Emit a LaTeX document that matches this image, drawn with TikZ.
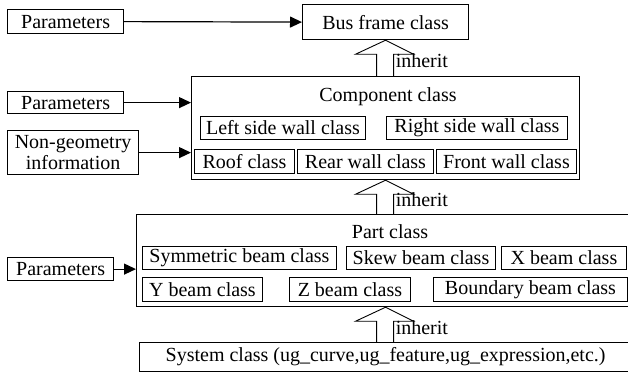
\documentclass[tikz,border=0pt]{standalone}
\usepackage{fontspec}
\setmainfont{Liberation Serif}
\newfontfamily\timesfont{Liberation Serif}
\usetikzlibrary{arrows.meta,calc}
\tikzset{
  mainbox/.style={draw, line width=1.2pt, inner sep=0pt, anchor=north west},
  subbox/.style={draw, line width=0.9pt, inner sep=0pt, anchor=north west},
  ttl/.style={inner sep=0pt},
  lbl/.style={inner sep=0pt, anchor=west},
  feed/.style={line width=1.2pt, -{Triangle[length=12pt,width=11pt]}},
  inh/.style={line width=0.9pt}
}
\newcommand\inharrow[3]{%
  \coordinate (#3a) at (#1.south);
  \coordinate (#3b) at ($(#1.south |- #2.north)$);
  \draw[inh] ($(#3b)+(-9pt,0)$) -- ($(#3a)+(-9pt,-14pt)$) -- ($(#3a)+(-30pt,-14pt)$)
     -- (#3a) -- ($(#3a)+(28pt,-14pt)$) -- ($(#3a)+(8pt,-14pt)$) -- ($(#3b)+(8pt,0)$);
  \node[lbl] (#3l) at ($(#3b)!0.5!(#3a)+(10pt,-3pt)$) {inherit};
}
\begin{document}
\begin{tikzpicture}[x=1pt,y=-1pt,font=\timesfont\fontsize{20}{21}\selectfont]
\useasboundingbox (0,0) rectangle (628,372);
% top level
\node[mainbox, minimum width=116pt, minimum height=24pt] (p1) at (7,9) {Parameters};
\node[mainbox, minimum width=166pt, minimum height=35pt] (bus) at (302,4) {Bus frame class};
% component
\node[mainbox, minimum width=116pt, minimum height=22pt] (p2) at (7,91) {Parameters};
\node[mainbox, minimum width=131pt, minimum height=44pt, align=center] (ng) at (7,130) {Non-geometry\\information};
\node[mainbox, minimum width=388pt, minimum height=103pt] (comp) at (191,76) {};
\node[ttl] (compt) at (388,97) {Component class};
\node[subbox, minimum width=165pt, minimum height=23pt] (lsw) at (200,116) {Left side wall class};
\node[subbox, minimum width=181pt, minimum height=23pt] (rsw) at (386,116) {Right side wall class};
\node[subbox, minimum width=100pt, minimum height=24pt] (roof) at (194,149) {Roof class};
\node[subbox, minimum width=136pt, minimum height=24pt] (rear) at (297,149) {Rear wall class};
\node[subbox, minimum width=140pt, minimum height=24pt] (front) at (436,149) {Front wall class};
% part
\node[mainbox, minimum width=106pt, minimum height=23pt] (p3) at (7,257) {Parameters};
\node[mainbox, minimum width=498pt, minimum height=92pt] (part) at (136,214) {};
\node[ttl] (partt) at (390,232) {Part class};
\node[subbox, minimum width=194pt, minimum height=23pt] (sym) at (142,246) {Symmetric beam class};
\node[subbox, minimum width=149pt, minimum height=23pt] (skew) at (346,246) {Skew beam class};
\node[subbox, minimum width=125pt, minimum height=23pt] (xb) at (501,246) {X beam class};
\node[subbox, minimum width=120pt, minimum height=24pt] (yb) at (142,277) {Y beam class};
\node[subbox, minimum width=121pt, minimum height=24pt] (zb) at (289,277) {Z beam class};
\node[subbox, minimum width=194pt, minimum height=24pt] (bd) at (433,277) {Boundary beam class};
% system
\node[mainbox, minimum width=492pt, minimum height=29pt] (sys) at (139,342) {System class (ug\_curve,ug\_feature,ug\_expression,etc.)};
% feeds
\draw[feed] (p1.east) -- (bus.west);
\draw[feed] (p2.east) -- (p2.east -| comp.west);
\draw[feed] (ng.east) -- (ng.east -| comp.west);
\draw[feed] (p3.east) -- (p3.east -| part.west);
% inherit arrows
\inharrow{bus}{comp}{ia}
\inharrow{comp}{part}{ib}
\inharrow{part}{sys}{ic}
\end{tikzpicture}
\end{document}
